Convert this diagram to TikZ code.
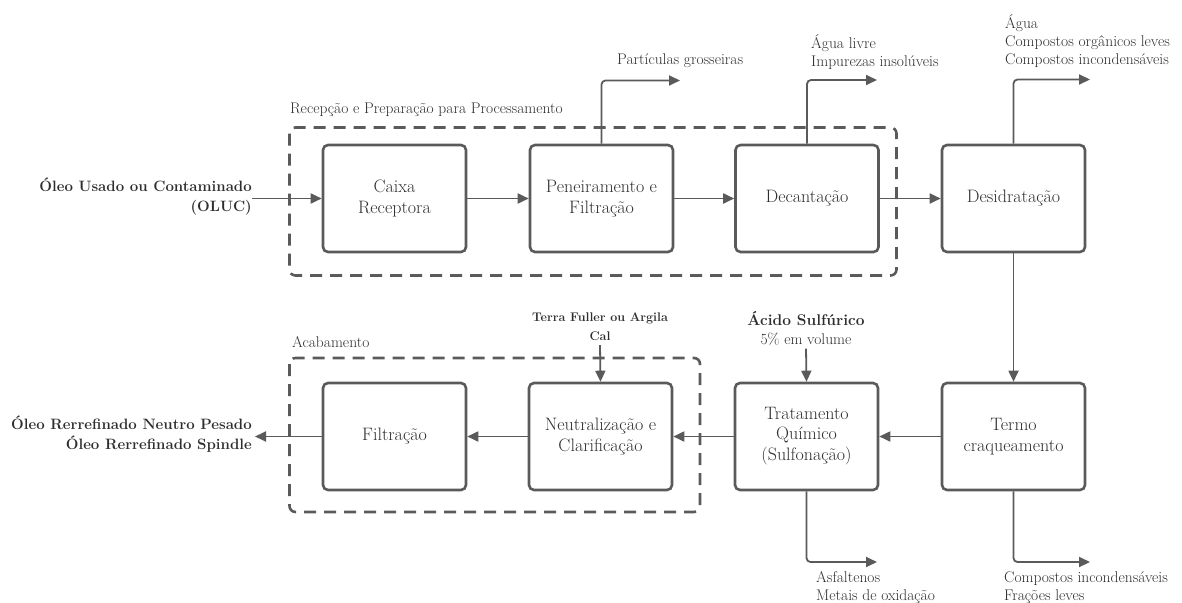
\documentclass[tikz,border=0pt]{standalone}
\usepackage{fontspec}
\usetikzlibrary{arrows.meta}
\definecolor{ln}{HTML}{5A5A5A}
\definecolor{tx}{HTML}{2E2E2E}

\begin{document}
\begin{tikzpicture}[x=1pt,y=-1pt,
  stepbox/.style={draw=ln, line width=2.6pt, rounded corners=5pt,
    minimum width=143pt, minimum height=107pt, align=center, text=tx,
    font=\fontsize{18}{20.5}\selectfont, inner sep=0pt},
  arr/.style={draw=ln, line width=1.8pt, rounded corners=4pt,
    -{Triangle[length=11pt,width=10pt]}},
  group/.style={draw=ln, line width=2.6pt, dash pattern=on 12pt off 8pt,
    rounded corners=6pt},
  lbl/.style={text=tx, font=\fontsize{15.5}{18}\selectfont, align=left,
    inner sep=0pt, anchor=west},
  blbl/.style={text=tx, font=\bfseries\fontsize{15}{20}\selectfont,
    align=right, inner sep=0pt, anchor=east},
]
\useasboundingbox (0,0) rectangle (1182,602);

% group frames
\draw[group] (289.5,127.5) rectangle (896.5,275.5);
\draw[group] (289.5,358) rectangle (700,512);
\node[lbl] (grpA) at (290,110) {Recepção e Preparação para Processamento};
\node[lbl] (grpB) at (292,342) {Acabamento};

% process steps
\node[stepbox] (caixa) at (394.5,198.5) {Caixa\\Receptora};
\node[stepbox] (pen)   at (601.5,198.5) {Peneiramento e\\Filtração};
\node[stepbox] (dec)   at (807,198.5)   {Decantação};
\node[stepbox] (des)   at (1013.5,198.5) {Desidratação};
\node[stepbox] (termo) at (1013.5,436.5) {Termo\\craqueamento};
\node[stepbox] (trat)  at (806.5,436.5) {Tratamento\\Químico\\(Sulfonação)\rule[-6pt]{0pt}{1pt}};
\node[stepbox] (neut)  at (600.5,436.5) {Neutralização e\\Clarificação};
\node[stepbox] (filt)  at (394.5,436.5) {Filtração};

% feed and product
\node[blbl] (oluc) at (252,196.5) {Óleo Usado ou Contaminado\\(OLUC)};
\node[blbl] (prod) at (252,434) {Óleo Rerrefinado Neutro Pesado\\Óleo Rerrefinado Spindle};

% reagents
\node[text=tx, font=\fontsize{15.5}{19}\selectfont, align=center, inner sep=0pt]
  (acido) at (806,328.5) {\textbf{Ácido Sulfúrico}\\5\% em volume};
\node[text=tx, font=\bfseries\fontsize{12.5}{19}\selectfont, align=center, inner sep=0pt]
  (terra) at (600,327) {Terra Fuller ou Argila\\Cal};

% by-product outlets
\coordinate (penOut) at (680,80.5);
\coordinate (decOut) at (877,80);
\coordinate (desOut) at (1090,79.5);
\coordinate (tratOut) at (877,562);
\coordinate (termoOut) at (1090,562);
\node[lbl] (penTxt) at (617,60.5) {Partículas grosseiras};
\node[lbl] (decTxt) at (811,52) {Água livre\\Impurezas insolúveis};
\node[lbl] (desTxt) at (1005,41) {Água\\Compostos orgânicos leves\\Compostos incondensáveis};
\node[lbl] (tratTxt) at (816,587.5) {Asfaltenos\\Metais de oxidação};
\node[lbl] (termoTxt) at (1004,587.5) {Compostos incondensáveis\\Frações leves};

% main flow
\draw[arr] (oluc.east |- caixa.west) -- (caixa.west);
\draw[arr] (caixa) -- (pen);
\draw[arr] (pen) -- (dec);
\draw[arr] (dec) -- (des);
\draw[arr] (des) -- (termo);
\draw[arr] (termo) -- (trat);
\draw[arr] (trat) -- (neut);
\draw[arr] (neut) -- (filt);
\draw[arr] (filt.west) -- ([xshift=3pt]prod.east |- filt.west);

% reagent feeds
\draw[arr] ([yshift=-3pt]acido.south) -- (trat.north);
\draw[arr] ([yshift=-4pt]terra.south) -- (neut.north);

% outlets
\draw[arr] (pen.north) |- (penOut);
\draw[arr] (dec.north) |- (decOut);
\draw[arr] (des.north) |- (desOut);
\draw[arr] (trat.south) |- (tratOut);
\draw[arr] (termo.south) |- (termoOut);
\end{tikzpicture}
\end{document}
